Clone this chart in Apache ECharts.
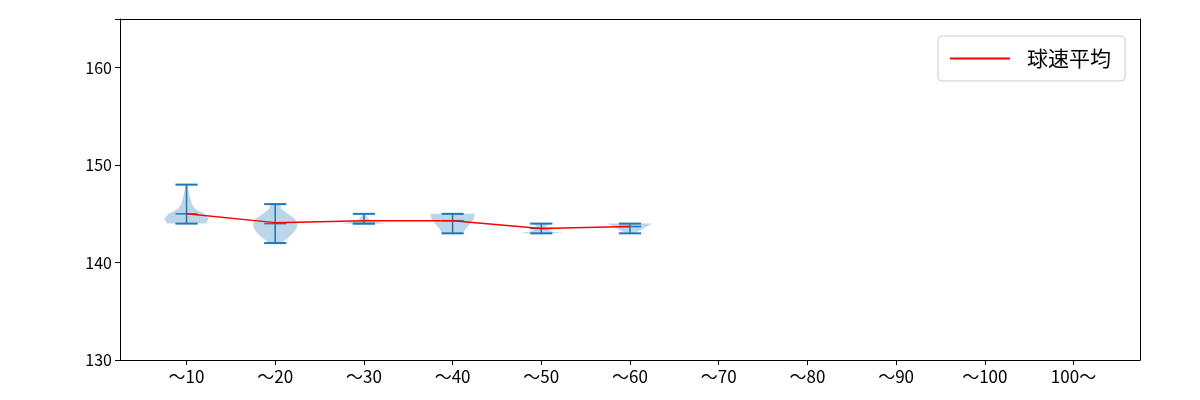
<!DOCTYPE html><html><head><meta charset="utf-8"><script src="https://cdn.jsdelivr.net/npm/echarts@6/dist/echarts.min.js"></script></head><body style="margin:0"><div id="c" style="width:1200px;height:400px"></div><script>
const categories=['～10','～20','～30','～40','～50','～60','～70','～80','～90','～100','100～'];
const means=[145,144.1,144.3,144.3,143.5,143.7];
const mins=[144,142,144,143,143,143];
const maxs=[148,146,145,145,144,144];
const medians=[145,144,144,144.3,143.5,143.7];
const profiles=[
 [[144,0.22],[144.5,0.25],[145,0.2],[145.5,0.1],[146,0.06],[147,0.03],[148,0.01]],
 [[142,0.07],[142.5,0.14],[143,0.2],[143.5,0.24],[144,0.25],[144.5,0.22],[145,0.14],[145.5,0.07],[146,0.05]],
 [[144,0.25],[144.15,0.18],[144.4,0.06],[144.7,0.03],[145,0.02]],
 [[143,0.12],[143.5,0.15],[144,0.2],[144.5,0.24],[145,0.25]],
 [[143,0.25],[143.2,0.12],[143.5,0.06],[143.8,0.06],[144,0.1]],
 [[143,0.05],[143.5,0.15],[144,0.25]]
];
const blue='#1f77b4';
const ticks=[1,2,3,4,5,6,7,8,9,10,11];
const chart=echarts.init(document.getElementById('c'));
chart.setOption({
 animation:false,
 textStyle:{fontFamily:'Noto Sans CJK JP'},
 grid:{left:120,right:60,top:19,bottom:40},
 xAxis:[{type:'value',min:0.25,max:11.75,interval:1,splitLine:{show:false},
  axisLine:{onZero:false,lineStyle:{color:'#000'}},axisTick:{length:5,lineStyle:{color:'#000'},customValues:ticks},
  axisLabel:{color:'#000',fontSize:17,margin:8,customValues:ticks,formatter:v=>categories[Math.round(v)-1]||''}},
  {type:'value',position:'top',min:0.25,max:11.75,axisLine:{show:true,onZero:false,lineStyle:{color:'#000'}},axisTick:{show:false},axisLabel:{show:false},splitLine:{show:false}}],
 yAxis:[{type:'value',min:130,max:165,interval:10,splitLine:{show:false},
  axisLine:{show:true,lineStyle:{color:'#000'}},axisTick:{show:true,length:5,lineStyle:{color:'#000'}},
  axisLabel:{color:'#000',fontSize:16,formatter:v=>v>160?'':v}},
  {type:'value',position:'right',min:130,max:165,axisLine:{show:true,onZero:false,lineStyle:{color:'#000'}},axisTick:{show:false},axisLabel:{show:false},splitLine:{show:false}}],
 legend:{right:75,top:36,itemWidth:60,itemHeight:2,itemGap:10,borderColor:'#ccc',borderWidth:1,borderRadius:4,padding:[12,14,12,12],
  textStyle:{fontSize:21,color:'#000',padding:[0,0,0,12]},data:[{name:'球速平均',icon:'rect'}]},
 series:[
  {type:'custom',silent:true,data:profiles.map((p,i)=>[i]),renderItem:(params,api)=>{
    const i=api.value(0);const x=i+1;const p=profiles[i];
    const pts=[];p.forEach(([y,w])=>pts.push(api.coord([x+w,y])));
    for(let k=p.length-1;k>=0;k--)pts.push(api.coord([x-p[k][1],p[k][0]]));
    const cap=(y)=>{const a=api.coord([x-0.125,y]),b=api.coord([x+0.125,y]);return{type:'line',shape:{x1:a[0],y1:a[1],x2:b[0],y2:b[1]},style:{stroke:blue,lineWidth:2}}};
    const t=api.coord([x,maxs[i]]),b=api.coord([x,mins[i]]);
    const mc=api.coord([x-0.125,medians[i]]),md=api.coord([x+0.125,medians[i]]);
    return{type:'group',children:[
     {type:'polygon',shape:{points:pts},style:{fill:'rgba(31,119,180,0.3)'}},
     {type:'line',shape:{x1:t[0],y1:t[1],x2:b[0],y2:b[1]},style:{stroke:blue,lineWidth:1.5}},
     cap(maxs[i]),cap(mins[i]),
     {type:'line',shape:{x1:mc[0],y1:mc[1],x2:md[0],y2:md[1]},style:{stroke:blue,lineWidth:1.5}}
    ]};
  }},
  {type:'line',name:'球速平均',data:means.map((m,i)=>[i+1,m]),showSymbol:false,lineStyle:{color:'red',width:1.5},itemStyle:{color:'red'}}
 ]
});
</script></body></html>
